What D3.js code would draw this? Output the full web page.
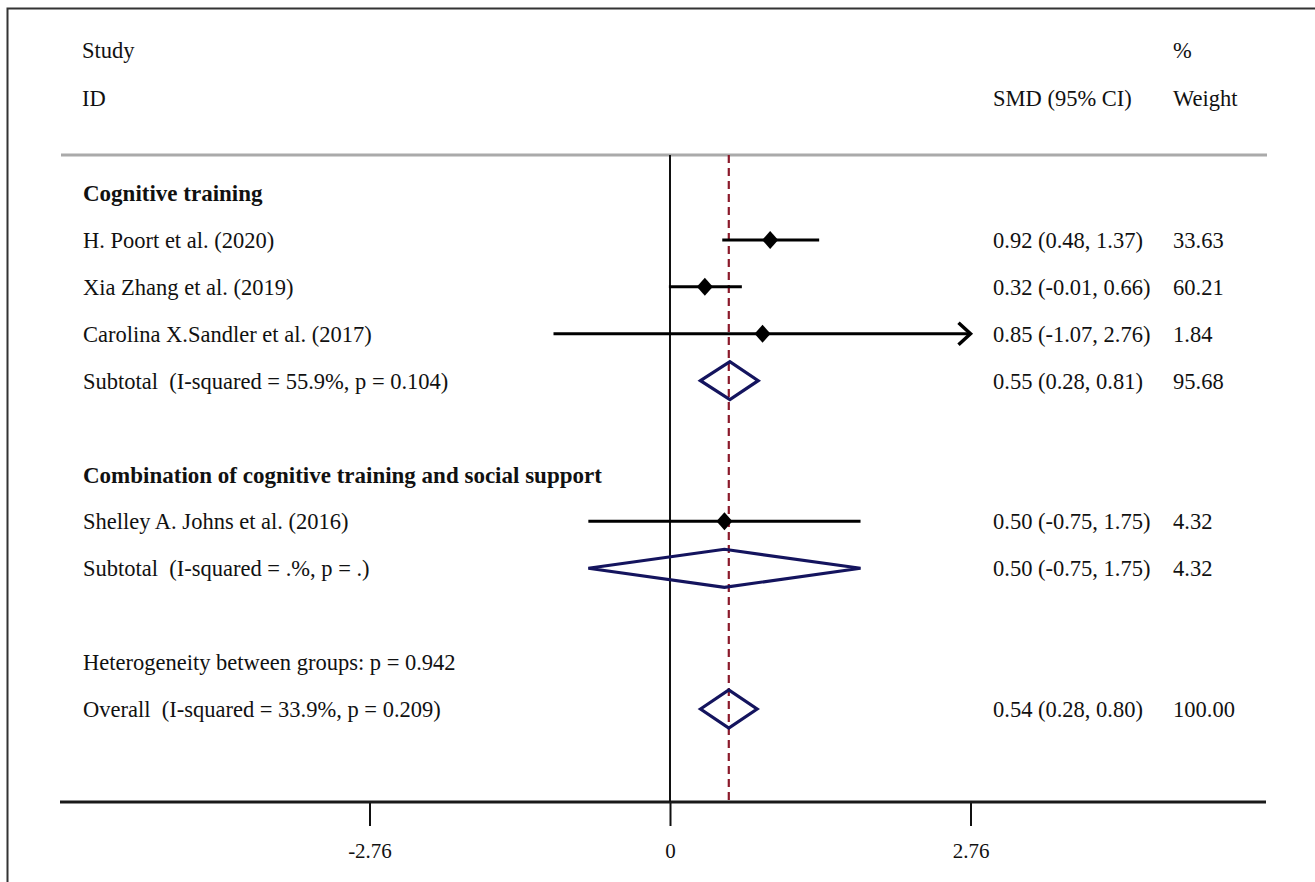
<!DOCTYPE html>
<html><head><meta charset="utf-8">
<script src="https://cdn.jsdelivr.net/npm/d3@7"></script>
<style>body{margin:0;background:#fff}svg{display:block}text{font-family:"Liberation Serif","Times New Roman",serif;fill:#111;white-space:pre}</style>
</head><body>
<script>
// ---- data ----
const rowLabels = ["Cognitive training","H. Poort et al. (2020)","Xia Zhang et al. (2019)","Carolina X.Sandler et al. (2017)","Subtotal  (I-squared = 55.9%, p = 0.104)","","Combination of cognitive training and social support","Shelley A. Johns et al. (2016)","Subtotal  (I-squared = .%, p = .)","","Heterogeneity between groups: p = 0.942","Overall  (I-squared = 33.9%, p = 0.209)"];
const rowTypes = ["group","study","study","study","subtotal","blank","group","study","subtotal","blank","note","overall"];
const smd   = [null,0.92,0.32,0.85,0.55,null,null,0.50,0.50,null,null,0.54];
const lower = [null,0.48,-0.01,-1.07,0.28,null,null,-0.75,-0.75,null,null,0.28];
const upper = [null,1.37,0.66,2.76,0.81,null,null,1.75,1.75,null,null,0.80];
const ciText = ["","0.92 (0.48, 1.37)","0.32 (-0.01, 0.66)","0.85 (-1.07, 2.76)","0.55 (0.28, 0.81)","","","0.50 (-0.75, 1.75)","0.50 (-0.75, 1.75)","","","0.54 (0.28, 0.80)"];
const weightText = ["","33.63","60.21","1.84","95.68","","","4.32","4.32","","","100.00"];
const tickValues = [-2.76, 0, 2.76];
const tickLabels = ["-2.76","0","2.76"];
const overallEffect = 0.54;
const axisClip = 2.76;

const W = 1315, H = 882;
const svg = d3.select("body").append("svg").attr("width", W).attr("height", H);

// frame
svg.append("rect").attr("x",7.5).attr("y",8.5).attr("width",1400).attr("height",1000)
  .attr("fill","none").attr("stroke","#333").attr("stroke-width",2);

const x = d3.scaleLinear().domain([-2.76, 2.76]).range([369.5, 970.5]);
const y = d3.scaleLinear().domain([0, 11]).range([193, 709]);
const fs = 22.5;

// headers
const hdr = [["Study",82,50],["ID",82,98],["%",1173,50],["SMD (95% CI)",993,98],["Weight",1173,98]];
svg.selectAll("text.hdr").data(hdr).join("text").attr("class","hdr")
  .attr("x",d=>d[1]).attr("y",d=>d[2]).attr("dy","0.35em").attr("font-size",fs).text(d=>d[0]);

// separator
svg.append("line").attr("x1",61).attr("x2",1267).attr("y1",155).attr("y2",155)
  .attr("stroke","#aaa").attr("stroke-width",3);

// axis
const axisY = 802;
const axis = d3.axisBottom(x).tickValues(tickValues).tickFormat((d,i)=>tickLabels[i]).tickSize(24).tickSizeOuter(0);
const gA = svg.append("g").attr("transform",`translate(0,${axisY})`).call(axis);
gA.select(".domain").remove();
gA.selectAll(".tick line").attr("stroke","#111").attr("stroke-width",2);
gA.selectAll(".tick text").attr("font-size",21).attr("font-family","Liberation Serif").attr("fill","#111").attr("dy","0").attr("y",56);
svg.append("line").attr("x1",60).attr("x2",1266).attr("y1",axisY).attr("y2",axisY)
  .attr("stroke","#1a1a1a").attr("stroke-width",3);

// zero line
svg.append("line").attr("x1",x(0)).attr("x2",x(0)).attr("y1",155).attr("y2",axisY)
  .attr("stroke","#111").attr("stroke-width",2);
// overall dashed line
svg.append("line").attr("x1",x(overallEffect)).attr("x2",x(overallEffect)).attr("y1",155).attr("y2",axisY)
  .attr("stroke","#8b1a2b").attr("stroke-width",2.2).attr("stroke-dasharray","8,5");

const rows = rowLabels.map((l,i)=>({i,l,t:rowTypes[i],e:smd[i],lo:lower[i],hi:upper[i],ci:ciText[i],w:weightText[i]}));

// labels
svg.selectAll("text.lab").data(rows.filter(r=>r.l)).join("text").attr("class","lab")
  .attr("x",83).attr("y",r=>y(r.i)).attr("dy","0.35em")
  .attr("font-size",r=>r.t==="group"?fs+0.5:fs)
  .attr("font-weight",r=>r.t==="group"?"bold":"normal").text(r=>r.l);
svg.selectAll("text.ci").data(rows.filter(r=>r.ci)).join("text").attr("class","ci")
  .attr("x",993).attr("y",r=>y(r.i)).attr("dy","0.35em").attr("font-size",fs).text(r=>r.ci);
svg.selectAll("text.wt").data(rows.filter(r=>r.w)).join("text").attr("class","wt")
  .attr("x",1173).attr("y",r=>y(r.i)).attr("dy","0.35em").attr("font-size",fs).text(r=>r.w);

// study CIs
const studies = rows.filter(r=>r.t==="study");
svg.selectAll("line.ci").data(studies).join("line").attr("class","ci")
  .attr("x1",r=>x(r.lo)).attr("x2",r=>x(Math.min(r.hi,axisClip)))
  .attr("y1",r=>y(r.i)).attr("y2",r=>y(r.i)).attr("stroke","#000").attr("stroke-width",3);
// arrows where CI reaches clip
svg.selectAll("path.arrow").data(studies.filter(r=>r.hi>=axisClip)).join("path").attr("class","arrow")
  .attr("d",r=>{const xe=x(axisClip),yy=y(r.i);return `M${xe-12},${yy-11}L${xe},${yy}L${xe-12},${yy+11}`;})
  .attr("fill","none").attr("stroke","#000").attr("stroke-width",3.5);
// point diamonds
svg.selectAll("path.pt").data(studies).join("path").attr("class","pt")
  .attr("d",r=>{const cx=x(r.e),cy=y(r.i);return `M${cx},${cy-9}L${cx+8},${cy}L${cx},${cy+9}L${cx-8},${cy}Z`;})
  .attr("fill","#000");

// pooled diamonds
svg.selectAll("path.pool").data(rows.filter(r=>r.t==="subtotal"||r.t==="overall")).join("path").attr("class","pool")
  .attr("d",r=>{const cy=y(r.i);return `M${x(r.lo)},${cy}L${x(r.e)},${cy-19}L${x(r.hi)},${cy}L${x(r.e)},${cy+19}Z`;})
  .attr("fill","none").attr("stroke","#14145e").attr("stroke-width",3.2).attr("stroke-linejoin","miter");
</script>
</body></html>
